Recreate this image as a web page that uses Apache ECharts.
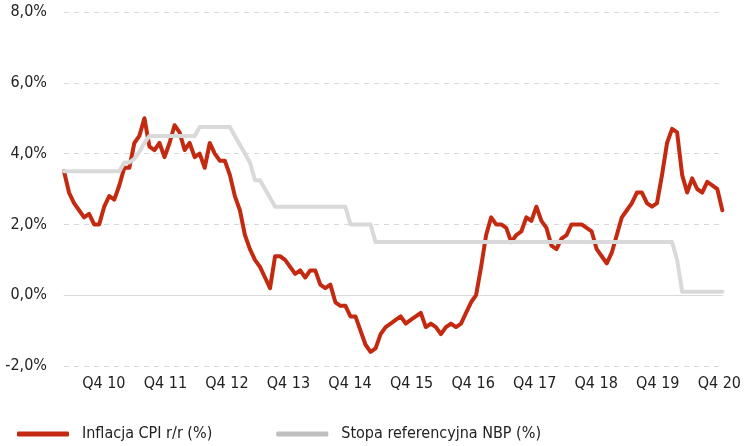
<!DOCTYPE html>
<html>
<head>
<meta charset="utf-8">
<script src="https://cdn.jsdelivr.net/npm/echarts@6/dist/echarts.min.js"></script>
<style>
  html, body { margin: 0; padding: 0; background: #fff; }
  #chart { width: 744px; height: 446px; }
</style>
</head>
<body>
<div id="chart"></div>
<script>
// miesiące od sty 2010 do gru 2020
const months = [];
for (let y = 2010; y <= 2020; y++) {
  for (let m = 1; m <= 12; m++) months.push(y + '-' + (m < 10 ? '0' + m : m));
}

// Inflacja CPI r/r (%)
const cpi = [
  3.5, 2.9, 2.6, 2.4, 2.2, 2.3, 2.0, 2.0, 2.5, 2.8, 2.7, 3.1,
  3.6, 3.6, 4.3, 4.5, 5.0, 4.2, 4.1, 4.3, 3.9, 4.3, 4.8, 4.6,
  4.1, 4.3, 3.9, 4.0, 3.6, 4.3, 4.0, 3.8, 3.8, 3.4, 2.8, 2.4,
  1.7, 1.3, 1.0, 0.8, 0.5, 0.2, 1.1, 1.1, 1.0, 0.8, 0.6, 0.7,
  0.5, 0.7, 0.7, 0.3, 0.2, 0.3, -0.2, -0.3, -0.3, -0.6, -0.6, -1.0,
  -1.4, -1.6, -1.5, -1.1, -0.9, -0.8, -0.7, -0.6, -0.8, -0.7, -0.6, -0.5,
  -0.9, -0.8, -0.9, -1.1, -0.9, -0.8, -0.9, -0.8, -0.5, -0.2, 0.0, 0.8,
  1.7, 2.2, 2.0, 2.0, 1.9, 1.5, 1.7, 1.8, 2.2, 2.1, 2.5, 2.1,
  1.9, 1.4, 1.3, 1.6, 1.7, 2.0, 2.0, 2.0, 1.9, 1.8, 1.3, 1.1,
  0.9, 1.2, 1.7, 2.2, 2.4, 2.6, 2.9, 2.9, 2.6, 2.5, 2.6, 3.4,
  4.3, 4.7, 4.6, 3.4, 2.9, 3.3, 3.0, 2.9, 3.2, 3.1, 3.0, 2.4
];

// Stopa referencyjna NBP (%)
const nbpRate = [
  3.5, 3.5, 3.5, 3.5, 3.5, 3.5, 3.5, 3.5, 3.5, 3.5, 3.5, 3.5,
  3.75, 3.75, 3.85, 4.05, 4.3, 4.5, 4.5, 4.5, 4.5, 4.5, 4.5, 4.5,
  4.5, 4.5, 4.5, 4.75, 4.75, 4.75, 4.75, 4.75, 4.75, 4.75, 4.5, 4.25,
  4.0, 3.75, 3.25, 3.25, 3.0, 2.75, 2.5, 2.5, 2.5, 2.5, 2.5, 2.5,
  2.5, 2.5, 2.5, 2.5, 2.5, 2.5, 2.5, 2.5, 2.5, 2.0, 2.0, 2.0,
  2.0, 2.0, 1.5, 1.5, 1.5, 1.5, 1.5, 1.5, 1.5, 1.5, 1.5, 1.5,
  1.5, 1.5, 1.5, 1.5, 1.5, 1.5, 1.5, 1.5, 1.5, 1.5, 1.5, 1.5,
  1.5, 1.5, 1.5, 1.5, 1.5, 1.5, 1.5, 1.5, 1.5, 1.5, 1.5, 1.5,
  1.5, 1.5, 1.5, 1.5, 1.5, 1.5, 1.5, 1.5, 1.5, 1.5, 1.5, 1.5,
  1.5, 1.5, 1.5, 1.5, 1.5, 1.5, 1.5, 1.5, 1.5, 1.5, 1.5, 1.5,
  1.5, 1.5, 1.0, 0.1, 0.1, 0.1, 0.1, 0.1, 0.1, 0.1, 0.1, 0.1
];

const quarterLabels = ['Q4 10', 'Q4 11', 'Q4 12', 'Q4 13', 'Q4 14', 'Q4 15',
  'Q4 16', 'Q4 17', 'Q4 18', 'Q4 19', 'Q4 20'];

const FONT = "'DejaVu Sans Condensed', 'Liberation Sans', sans-serif";
const RED = '#c32a10';
const GREY = '#d9d9d9';

const chart = echarts.init(document.getElementById('chart'), null, { renderer: 'canvas' });

const option = {
  backgroundColor: '#ffffff',
  animation: false,
  textStyle: { fontFamily: FONT },
  grid: {
    left: 64,
    right: 19,
    top: 12,
    bottom: 80
  },
  legend: {
    left: 12,
    top: 421,
    itemWidth: 52,
    itemHeight: 5,
    itemGap: 64,
    textStyle: {
      fontFamily: FONT,
      fontSize: 16,
      color: '#222',
      padding: [0, 0, 0, 8]
    },
    data: [
      { name: 'Inflacja CPI r/r (%)', icon: 'roundRect', itemStyle: { color: RED } },
      { name: 'Stopa referencyjna NBP (%)', icon: 'roundRect', itemStyle: { color: '#bfbfbf' } }
    ]
  },
  xAxis: [
    {
      type: 'category',
      data: months,
      boundaryGap: false,
      position: 'top',
      axisLine: { onZero: true, lineStyle: { color: GREY, width: 1 } },
      axisTick: { show: false },
      axisLabel: { show: false },
      splitLine: { show: false }
    },
    {
      // oś tylko dla etykiet kwartałów
      type: 'value',
      position: 'bottom',
      min: -0.647,
      max: 10.049,
      axisLine: { show: false, onZero: false },
      axisTick: { show: false },
      splitLine: { show: false },
      axisLabel: {
        customValues: quarterLabels.map((_, i) => i),
        formatter: (v) => quarterLabels[Math.round(v)],
        color: '#222',
        fontSize: 16,
        fontFamily: FONT,
        margin: 10
      }
    }
  ],
  yAxis: {
    type: 'value',
    min: -2,
    max: 8,
    interval: 2,
    axisLine: { show: false },
    axisTick: { show: false },
    axisLabel: {
      color: '#222',
      fontSize: 16,
      fontFamily: FONT,
      margin: 17,
      formatter: (v) => v.toFixed(1).replace('.', ',') + '%'
    },
    splitLine: {
      lineStyle: { color: GREY, width: 1, type: [5, 5] }
    }
  },
  series: [
    {
      name: 'Inflacja CPI r/r (%)',
      type: 'line',
      data: cpi,
      symbol: 'none',
      lineStyle: { color: RED, width: 4, join: 'round', cap: 'round' },
      itemStyle: { color: RED }
    },
    {
      name: 'Stopa referencyjna NBP (%)',
      type: 'line',
      data: nbpRate,
      symbol: 'none',
      lineStyle: { color: GREY, width: 4, join: 'round', cap: 'round' },
      itemStyle: { color: GREY }
    }
  ]
};

chart.setOption(option);
</script>
</body>
</html>
